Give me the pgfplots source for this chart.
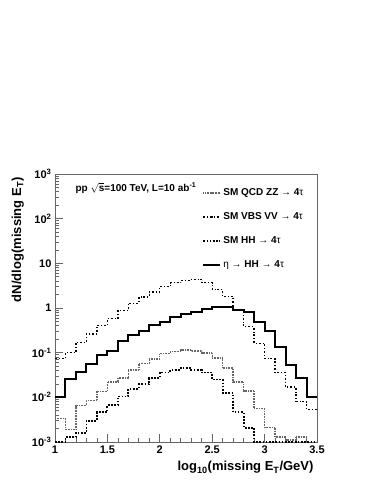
\documentclass[border=0pt]{standalone}
\usepackage{pgfplots}
\pgfplotsset{compat=1.18}
\usepackage{pgfplotstable}
\usepackage{fontspec}
\setmainfont{Liberation Sans}

% bin left edges, last row repeats the final bin to close the step
\pgfplotstableread{
x    qcd     vbs     hh      eta
1.0  0.0034  0.075   0.001   0.0103
1.1  0.0019  0.10    0.0013  0.026
1.2  0.0065  0.17    0.0016  0.036
1.3  0.0086  0.26    0.0030  0.055
1.4  0.0135  0.40    0.0046  0.09
1.5  0.022   0.58    0.0066  0.11
1.6  0.027   0.87    0.0104  0.18
1.7  0.041   1.26    0.0155  0.25
1.8  0.058   1.76    0.0195  0.31
1.9  0.072   2.3     0.027   0.42
2.0  0.095   3.0     0.036   0.48
2.1  0.106   3.7     0.041   0.62
2.2  0.115   4.1     0.045   0.72
2.3  0.110   4.4     0.041   0.82
2.4  0.098   3.7     0.036   0.93
2.5  0.076   2.6     0.025   1.08
2.6  0.045   1.8     0.0125  1.08
2.7  0.022   0.90    0.0046  0.88
2.8  0.014   0.38    0.0021  0.82
2.9  0.0056  0.16    0.001   0.49
3.0  0.0021  0.073   0.001   0.30
3.1  0.0013  0.036   0.001   0.135
3.2  0.0011  0.017   0.001   0.052
3.3  0.0013  0.008   0.001   0.027
3.4  0.0008  0.0053  0.001   0.0103
3.5  0.0008  0.0053  0.001   0.0103
}\histdata

\begin{document}
\begin{tikzpicture}
\path[use as bounding box] (-55pt,-53pt) rectangle (328pt,442pt);
\begin{axis}[
  at={(0,0)}, anchor=south west,
  scale only axis, width=262pt, height=268pt,
  xmin=1, xmax=3.5, ymin=1e-3, ymax=1e3,
  ymode=log,
  xtick={1,1.5,2,2.5,3,3.5},
  xticklabels={1,1.5,2,2.5,3,3.5},
  minor x tick num=4,
  ytick={1e-3,1e-2,1e-1,1,10,100,1000},
  yticklabels={10\textsuperscript{-3},10\textsuperscript{-2},10\textsuperscript{-1},1,10,10\textsuperscript{2},10\textsuperscript{3}},
  tick pos=left, tick align=inside,
  major tick length=8pt, minor tick length=4pt,
  axis line style={black!60, line width=0.9pt},
  every tick/.style={black!60, line width=0.7pt},
  ticklabel style={font=\fontsize{11}{13}\selectfont\bfseries},
  xlabel={log\textsubscript{10}(missing E\textsubscript{T}/GeV)},
  ylabel={dN/dlog(missing E\textsubscript{T})},
  label style={font=\fontsize{13}{15}\selectfont\bfseries},
  xlabel style={at={(axis description cs:1,0)}, anchor=north east, yshift=-16pt},
  ylabel style={at={(axis description cs:-0.105,1)}, anchor=south east},
  legend style={at={(axis description cs:0.55,0.96)}, anchor=north west,
    draw=none, fill=none, font=\fontsize{10}{12}\selectfont\bfseries,
    row sep=11.5pt},
  legend cell align=left,
  const plot mark left,
]
\addplot[black!60, line width=1.4pt, dash pattern=on 0.8pt off 0.8pt] table[x=x, y=qcd] {\histdata};
\addlegendentry{SM QCD ZZ {\mdseries →} 4{\mdseries τ}}
\addplot[black, line width=1.4pt, dash pattern=on 2pt off 2pt on 0.8pt off 2pt] table[x=x, y=vbs] {\histdata};
\addlegendentry{SM VBS VV {\mdseries →} 4{\mdseries τ}}
\addplot[black, line width=1.8pt, dash pattern=on 1.6pt off 1.6pt] table[x=x, y=hh] {\histdata};
\addlegendentry{SM HH {\mdseries →} 4{\mdseries τ}}
\addplot[black, line width=2pt] table[x=x, y=eta] {\histdata};
\addlegendentry{{\mdseries η →} HH {\mdseries →} 4{\mdseries τ}}
\node[anchor=west, font=\fontsize{10}{12}\selectfont\bfseries] at (axis description cs:0.065,0.948)
  {pp $\sqrt{\mbox{s}}$=100 TeV, L=10 ab\textsuperscript{-1}};
\end{axis}
\end{tikzpicture}
\end{document}
